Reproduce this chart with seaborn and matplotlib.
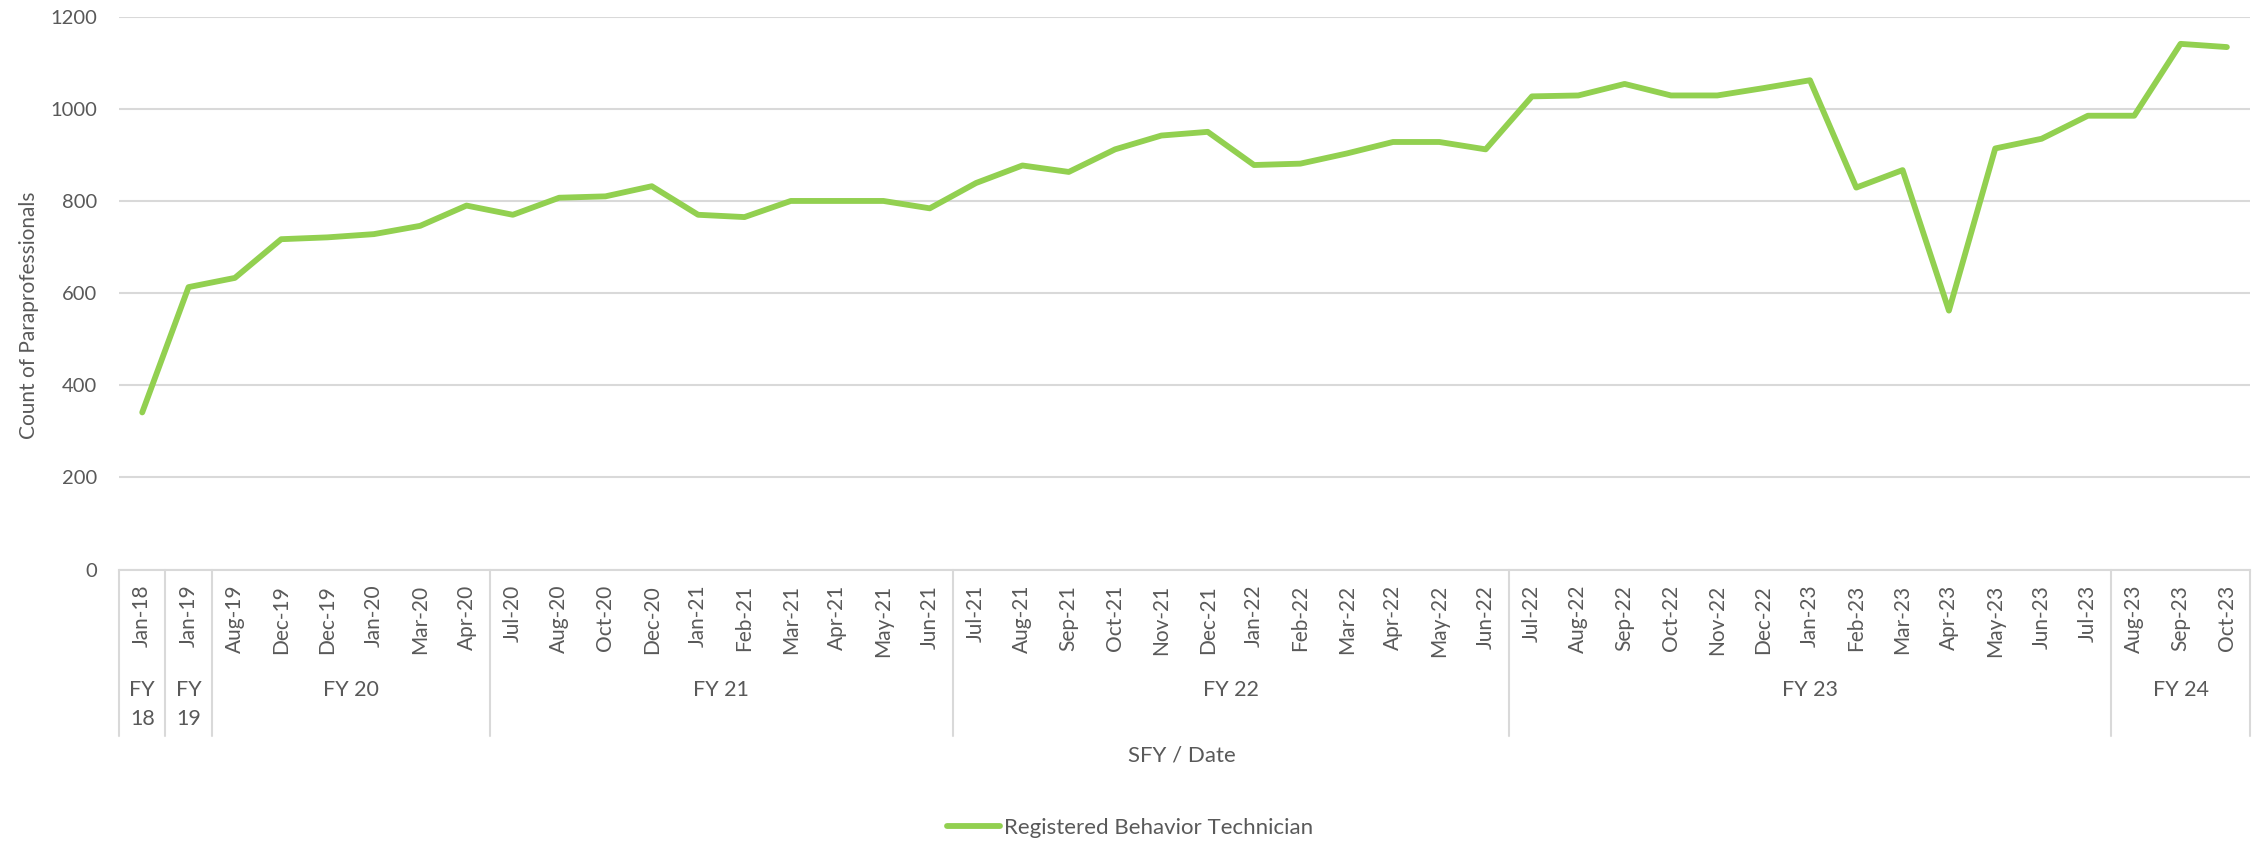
import numpy as np
import pandas as pd
import seaborn as sns
import matplotlib.pyplot as plt

# ---- Data
months = ['Jan-18', 'Jan-19',
          'Aug-19', 'Dec-19', 'Dec-19', 'Jan-20', 'Mar-20', 'Apr-20',
          'Jul-20', 'Aug-20', 'Oct-20', 'Dec-20', 'Jan-21', 'Feb-21', 'Mar-21', 'Apr-21', 'May-21', 'Jun-21',
          'Jul-21', 'Aug-21', 'Sep-21', 'Oct-21', 'Nov-21', 'Dec-21', 'Jan-22', 'Feb-22', 'Mar-22', 'Apr-22',
          'May-22', 'Jun-22',
          'Jul-22', 'Aug-22', 'Sep-22', 'Oct-22', 'Nov-22', 'Dec-22', 'Jan-23', 'Feb-23', 'Mar-23', 'Apr-23',
          'May-23', 'Jun-23', 'Jul-23',
          'Aug-23', 'Sep-23', 'Oct-23']
counts = [341, 613,
          633, 717, 721, 728, 746, 790,
          770, 807, 810, 832, 770, 765, 800, 800, 800, 784,
          839, 877, 863, 912, 942, 950, 878, 881, 903, 928, 928, 912,
          1027, 1029, 1054, 1029, 1029, 1045, 1062, 829, 867, 562, 914, 935, 985,
          985, 1141, 1134]
fy_labels = ['FY 18', 'FY 19', 'FY 20', 'FY 21', 'FY 22', 'FY 23', 'FY 24']
fy_sizes = [1, 1, 6, 10, 12, 13, 3]

table = pd.DataFrame({'pos': np.arange(len(months)), 'Count': counts})

# ---- Style
sns.set_style('white')
plt.rcParams['font.family'] = ['Lato', 'DejaVu Sans']
grey = '#595959'
grid_c = '#D9D9D9'

fig = plt.figure(figsize=(22.55, 8.42), dpi=100)
ax = fig.add_axes([0.0528, 0.3236, 0.945, 0.6566])

sns.lineplot(data=table, x='pos', y='Count', color='#92D050', linewidth=4.2,
             label='Registered Behavior Technician', ax=ax, legend=False)

ax.set_xlim(-0.5, len(months) - 0.5)
ax.set_ylim(0, 1200)
ax.set_yticks(range(0, 1201, 200))
ax.yaxis.grid(True, color=grid_c, linewidth=1.5)
ax.set_axisbelow(True)
for s in ['top', 'right', 'left']:
    ax.spines[s].set_visible(False)
ax.spines['bottom'].set_color(grid_c)
ax.spines['bottom'].set_linewidth(1.5)

ax.set_xticks(table['pos'])
ax.set_xticklabels(months, rotation=90, fontsize=15, color=grey)
ax.tick_params(axis='x', length=0, pad=11)
ax.tick_params(axis='y', length=0, pad=16, labelsize=14.5, labelcolor=grey)

ax.set_xlabel('')
ax.set_ylabel('Count of Paraprofessionals', fontsize=15, color=grey)
ax.yaxis.set_label_coords(-0.0375, 0.46)

# ---- Multi-level category axis (fiscal years)
trans = ax.get_xaxis_transform()
start = -0.5
bounds = [start]
for lab, n in zip(fy_labels, fy_sizes):
    mid = start + n / 2
    if n == 1:
        a, b = lab.split(' ')
        ax.text(mid, -0.218, a, transform=trans, ha='center', va='center',
                fontsize=15.5, color=grey)
        ax.text(mid, -0.271, b, transform=trans, ha='center', va='center',
                fontsize=15.5, color=grey)
    else:
        ax.text(mid, -0.218, lab, transform=trans, ha='center', va='center',
                fontsize=15.5, color=grey)
    start += n
    bounds.append(start)

for b in bounds:
    ax.plot([b, b], [0, -0.301], transform=trans, color=grid_c,
            linewidth=1.5, clip_on=False)

fig.text(0.524, 0.103, 'SFY / Date', ha='center', va='center',
         fontsize=16, color=grey)

handles, labels = ax.get_legend_handles_labels()
fig.legend(handles, labels, loc='center', bbox_to_anchor=(0.501, 0.017),
           frameon=False, fontsize=16, labelcolor=grey,
           handlelength=2.4, handletextpad=0.15)

fig.savefig('out.png', dpi=100)
